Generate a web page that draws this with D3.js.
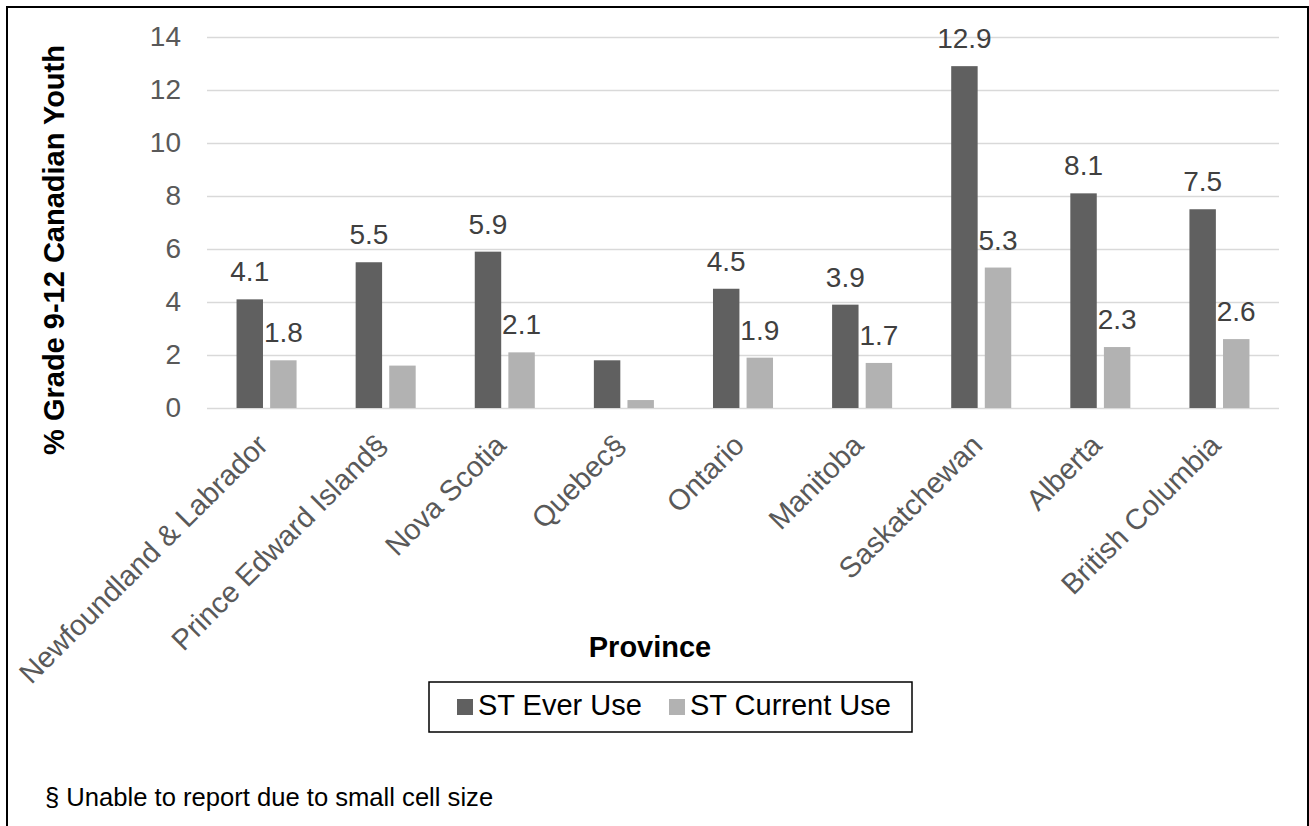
<!DOCTYPE html>
<html>
<head>
<meta charset="utf-8">
<script src="https://cdn.jsdelivr.net/npm/d3@7"></script>
<style>
  html, body { margin: 0; padding: 0; background: #fff; }
  svg { display: block; }
  text { font-family: "Liberation Sans", Arial, sans-serif; }
</style>
</head>
<body>
<svg id="chart" width="1309" height="826"></svg>
<script>
// Provinces along the x axis
const provinces = [
  "Newfoundland & Labrador", "Prince Edward Island§", "Nova Scotia", "Quebec§",
  "Ontario", "Manitoba", "Saskatchewan", "Alberta", "British Columbia"
];
// Series values (% of grade 9-12 youth)
const everUse    = [4.1, 5.5, 5.9, 1.8, 4.5, 3.9, 12.9, 8.1, 7.5];
const currentUse = [1.8, 1.6, 2.1, 0.3, 1.9, 1.7, 5.3, 2.3, 2.6];
// Which values are printed above the bars (§ = not reportable)
const everShown    = [true, true, true, false, true, true, true, true, true];
const currentShown = [true, false, true, false, true, true, true, true, true];
const seriesNames = ["ST Ever Use", "ST Current Use"];
const yTicks = [0, 2, 4, 6, 8, 10, 12, 14];
const footnote = "§ Unable to report due to small cell size";

const colors = ["#606060", "#b2b2b2"];

const svg = d3.select("#chart");
const plot = { left: 207, right: 1279, top: 37, bottom: 408 };

// outer frame
svg.append("rect")
  .attr("x", 7).attr("y", 7).attr("width", 1301).attr("height", 840)
  .attr("fill", "none").attr("stroke", "#000").attr("stroke-width", 2);

const x = d3.scaleBand().domain(provinces).range([plot.left, plot.right]).padding(0);
const y = d3.scaleLinear().domain([0, 14]).range([plot.bottom, plot.top]);

// gridlines
svg.append("g")
  .attr("transform", `translate(${plot.left},0)`)
  .call(d3.axisLeft(y).tickValues(yTicks).tickSize(-(plot.right - plot.left)).tickFormat(""))
  .call(g => g.select(".domain").remove())
  .call(g => g.selectAll("line").attr("stroke", "#d9d9d9").attr("stroke-width", 1.6));

// y tick labels
svg.append("g")
  .attr("transform", `translate(${plot.left},0)`)
  .call(d3.axisLeft(y).tickValues(yTicks).tickSize(0).tickPadding(26).tickFormat(d3.format("d")))
  .call(g => g.select(".domain").remove())
  .call(g => g.selectAll("text")
    .attr("fill", "#595959").style("font-size", "28px")
    .style("font-family", "'Liberation Sans', Arial, sans-serif"));

// bars
const bw = x.bandwidth();
const barW = bw * 0.222;
const barGap = bw * 0.06;
const groupOff = (bw - (2 * barW + barGap)) / 2;
const series = [everUse, currentUse];
const shown = [everShown, currentShown];

series.forEach((vals, s) => {
  const g = svg.append("g");
  const rows = vals.map((v, i) => ({ v, i, show: shown[s][i] }));
  const bx = d => x(provinces[d.i]) + groupOff + s * (barW + barGap);
  g.selectAll("rect").data(rows).join("rect")
    .attr("x", bx)
    .attr("y", d => y(d.v))
    .attr("width", barW)
    .attr("height", d => y(0) - y(d.v))
    .attr("fill", colors[s]);
  g.selectAll("text").data(rows.filter(d => d.show)).join("text")
    .attr("x", d => bx(d) + barW / 2)
    .attr("y", d => y(d.v) - 18)
    .attr("text-anchor", "middle")
    .attr("fill", "#404040")
    .style("font-size", "28px")
    .text(d => d3.format(".1f")(d.v));
});

// category labels (rotated)
svg.append("g").selectAll("text").data(provinces).join("text")
  .attr("transform", d => `translate(${x(d) + bw / 2 + 3},447) rotate(-45)`)
  .attr("text-anchor", "end")
  .attr("fill", "#595959")
  .style("font-size", "29px")
  .text(d => d);

// axis titles
svg.append("text")
  .attr("x", 650).attr("y", 657)
  .attr("text-anchor", "middle")
  .style("font-size", "29px").style("font-weight", "bold")
  .text("Province");

svg.append("text")
  .attr("transform", "translate(64,250) rotate(-90)")
  .attr("text-anchor", "middle")
  .style("font-size", "29px").style("font-weight", "bold")
  .text("% Grade 9-12 Canadian Youth");

// legend
const lg = svg.append("g");
lg.append("rect")
  .attr("x", 429).attr("y", 682).attr("width", 483).attr("height", 50)
  .attr("fill", "#fff").attr("stroke", "#000").attr("stroke-width", 1.5);
const legendX = [457, 669];
seriesNames.forEach((name, s) => {
  lg.append("rect")
    .attr("x", legendX[s]).attr("y", 699).attr("width", 16).attr("height", 16)
    .attr("fill", colors[s]);
  lg.append("text")
    .attr("x", legendX[s] + 21).attr("y", 715)
    .style("font-size", "29px")
    .attr("fill", "#000")
    .text(name);
});

// footnote
svg.append("text")
  .attr("x", 45).attr("y", 806)
  .style("font-size", "25.6px")
  .attr("fill", "#000")
  .text(footnote);
</script>
</body>
</html>
